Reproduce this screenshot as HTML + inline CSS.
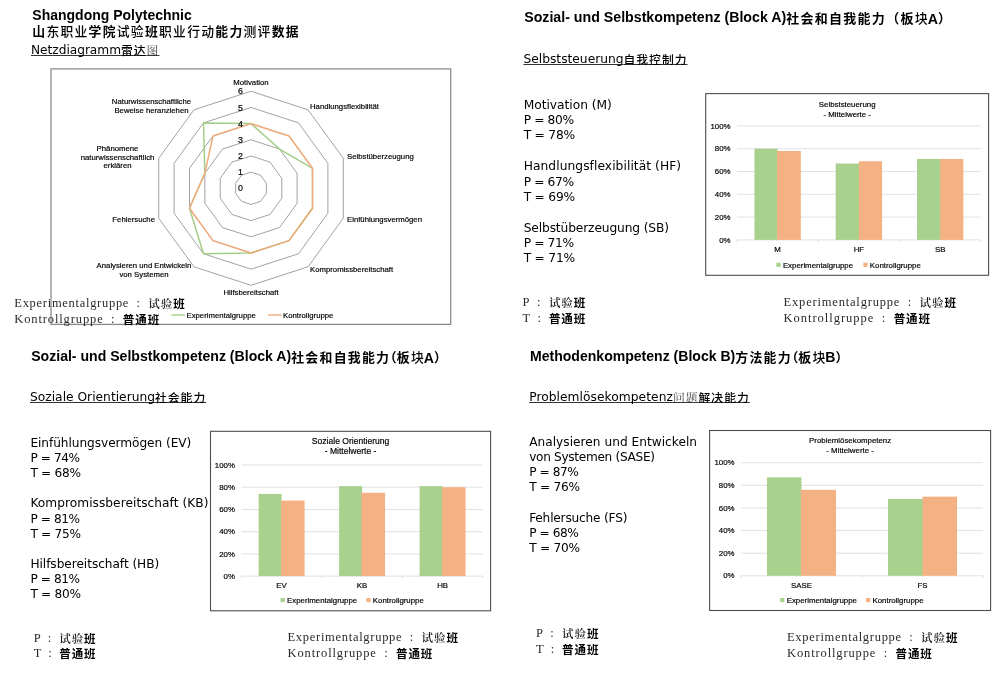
<!DOCTYPE html>
<html lang="de"><head><meta charset="utf-8"><title>Shangdong Polytechnic</title>
<style>
html,body{margin:0;padding:0;background:#fff;}
#pg{position:relative;width:1000px;height:675px;overflow:hidden;background:#fff;color:#000;}
.t{position:absolute;white-space:nowrap;line-height:1;}
.h{font-family:"Liberation Sans", "Noto Sans CJK SC", sans-serif;font-weight:bold;font-size:14.25px;}
.h .cj{font-family:"Noto Sans CJK SC",sans-serif;font-size:0.915em;letter-spacing:0.1em;vertical-align:-1px;}
.hw{font-feature-settings:"halt";letter-spacing:0;}
.h .r{font-weight:500;}
.h .lt{position:relative;top:1.2px;}
.u{font-family:"DejaVu Sans", "Noto Sans CJK SC", sans-serif;font-size:13.5px;text-decoration:underline;text-decoration-thickness:1.2px;text-underline-offset:0.8px;text-decoration-color:#333;text-decoration-skip-ink:none;}
.u .cj{font-family:"Noto Sans CJK SC",sans-serif;font-size:11.8px;letter-spacing:1px;font-weight:500;vertical-align:-0.6px;}
.u .sg{font-family:"Noto Serif CJK SC",serif;font-weight:400;color:#444;}
.b{font-family:"DejaVu Sans", "Noto Sans CJK SC", sans-serif;font-size:13.5px;line-height:15.4px;white-space:pre;}
.b div{height:1lh;}
.m{font-family:"Liberation Serif","Noto Serif CJK SC",serif;font-size:12.5px;color:#2a2a2a;}
.m div{height:15.5px;line-height:15.5px;white-space:pre;}
.m .l{display:inline-block;}
.m .s{font-family:"Noto Serif CJK SC",serif;font-weight:600;font-size:11.5px;letter-spacing:0.95px;word-spacing:0;color:#111;vertical-align:-0.6px;}
.m .k{font-family:"Noto Sans CJK SC",sans-serif;font-weight:bold;font-size:11.5px;letter-spacing:0.95px;word-spacing:0;color:#000;vertical-align:-0.6px;}
svg{position:absolute;left:0;top:0;}
svg text{font-family:"Liberation Sans",sans-serif;fill:#000;stroke:#000;stroke-width:0.18px;}
</style></head><body><div id="pg">

<svg width="1000" height="675" viewBox="0 0 1000 675">
<rect x="51" y="68.9" width="399.7" height="255.5" fill="#fff" stroke="#8c8c8c" stroke-width="1.3"/>
<polygon points="251.00,172.13 260.50,175.22 266.38,183.30 266.38,193.30 260.50,201.38 251.00,204.47 241.50,201.38 235.62,193.30 235.62,183.30 241.50,175.22" fill="none" stroke="#8a8a8a" stroke-width="0.8"/>
<polygon points="251.00,155.96 270.01,162.14 281.76,178.31 281.76,198.29 270.01,214.46 251.00,220.64 231.99,214.46 220.24,198.29 220.24,178.31 231.99,162.14" fill="none" stroke="#8a8a8a" stroke-width="0.8"/>
<polygon points="251.00,139.79 279.51,149.05 297.14,173.31 297.14,203.29 279.51,227.55 251.00,236.81 222.49,227.55 204.86,203.29 204.86,173.31 222.49,149.05" fill="none" stroke="#8a8a8a" stroke-width="0.8"/>
<polygon points="251.00,123.62 289.02,135.97 312.51,168.31 312.51,208.29 289.02,240.63 251.00,252.98 212.98,240.63 189.49,208.29 189.49,168.31 212.98,135.97" fill="none" stroke="#8a8a8a" stroke-width="0.8"/>
<polygon points="251.00,107.45 298.52,122.89 327.89,163.32 327.89,213.28 298.52,253.71 251.00,269.15 203.48,253.71 174.11,213.28 174.11,163.32 203.48,122.89" fill="none" stroke="#8a8a8a" stroke-width="0.8"/>
<polygon points="251.00,91.28 308.03,109.81 343.27,158.32 343.27,218.28 308.03,266.79 251.00,285.32 193.97,266.79 158.73,218.28 158.73,158.32 193.97,109.81" fill="none" stroke="#8a8a8a" stroke-width="0.8"/>
<polygon points="251.00,123.62 279.51,149.05 312.51,168.31 312.51,208.29 289.02,240.63 251.00,252.98 203.48,253.71 189.49,208.29 204.86,173.31 203.48,122.89" fill="none" stroke="#A3CE87" stroke-width="1.5" stroke-linejoin="round"/>
<polygon points="251.00,123.62 289.02,135.97 312.51,168.31 312.51,208.29 289.02,240.63 251.00,252.98 212.98,240.63 189.49,208.29 204.86,173.31 212.98,135.97" fill="none" stroke="#F2AB7B" stroke-width="1.5" stroke-linejoin="round"/>
<text x="243" y="191.4" font-size="8.8" text-anchor="end">0</text>
<text x="243" y="175.2" font-size="8.8" text-anchor="end">1</text>
<text x="243" y="159.1" font-size="8.8" text-anchor="end">2</text>
<text x="243" y="142.9" font-size="8.8" text-anchor="end">3</text>
<text x="243" y="126.7" font-size="8.8" text-anchor="end">4</text>
<text x="243" y="110.5" font-size="8.8" text-anchor="end">5</text>
<text x="243" y="94.4" font-size="8.8" text-anchor="end">6</text>
<text x="251" y="84.8" font-size="7.75" text-anchor="middle">Motivation</text>
<text x="310" y="108.6" font-size="7.75" text-anchor="start">Handlungsflexibilität</text>
<text x="347" y="159.2" font-size="7.75" text-anchor="start">Selbstüberzeugung</text>
<text x="347" y="221.8" font-size="7.75" text-anchor="start">Einfühlungsvermögen</text>
<text x="310" y="271.8" font-size="7.75" text-anchor="start">Kompromissbereitschaft</text>
<text x="251" y="295.4" font-size="7.75" text-anchor="middle">Hilfsbereitschaft</text>
<text x="144" y="267.6" font-size="7.75" text-anchor="middle">Analysieren und Entwickeln</text>
<text x="144" y="276.9" font-size="7.75" text-anchor="middle">von Systemen</text>
<text x="155" y="221.8" font-size="7.75" text-anchor="end">Fehlersuche</text>
<text x="117.5" y="150.8" font-size="7.75" text-anchor="middle">Phänomene</text>
<text x="117.5" y="159.5" font-size="7.75" text-anchor="middle">naturwissenschaftlich</text>
<text x="117.5" y="168.2" font-size="7.75" text-anchor="middle">erklären</text>
<text x="151.5" y="104.0" font-size="7.75" text-anchor="middle">Naturwissenschaftliche</text>
<text x="151.5" y="113.1" font-size="7.75" text-anchor="middle">Beweise heranziehen</text>
<line x1="171.5" y1="315" x2="185" y2="315" stroke="#A3CE87" stroke-width="1.4"/>
<text x="186.5" y="317.7" font-size="7.75">Experimentalgruppe</text>
<line x1="268" y1="315" x2="281.5" y2="315" stroke="#F2AB7B" stroke-width="1.4"/>
<text x="283" y="317.7" font-size="7.75">Kontrollgruppe</text>
<rect x="705.7" y="93.6" width="282.9" height="181.7" fill="#fff" stroke="#4d4d4d" stroke-width="1.1"/>
<line x1="737" y1="239.90" x2="980.8" y2="239.90" stroke="#d9d9d9" stroke-width="0.8"/>
<text x="730.5" y="242.5" font-size="7.85" text-anchor="end">0%</text>
<line x1="737" y1="217.10" x2="980.8" y2="217.10" stroke="#d9d9d9" stroke-width="0.8"/>
<text x="730.5" y="219.7" font-size="7.85" text-anchor="end">20%</text>
<line x1="737" y1="194.30" x2="980.8" y2="194.30" stroke="#d9d9d9" stroke-width="0.8"/>
<text x="730.5" y="196.9" font-size="7.85" text-anchor="end">40%</text>
<line x1="737" y1="171.50" x2="980.8" y2="171.50" stroke="#d9d9d9" stroke-width="0.8"/>
<text x="730.5" y="174.1" font-size="7.85" text-anchor="end">60%</text>
<line x1="737" y1="148.70" x2="980.8" y2="148.70" stroke="#d9d9d9" stroke-width="0.8"/>
<text x="730.5" y="151.3" font-size="7.85" text-anchor="end">80%</text>
<line x1="737" y1="125.90" x2="980.8" y2="125.90" stroke="#d9d9d9" stroke-width="0.8"/>
<text x="730.5" y="128.5" font-size="7.85" text-anchor="end">100%</text>
<line x1="737.00" y1="239.90" x2="737.00" y2="242.10" stroke="#d9d9d9" stroke-width="0.8"/>
<line x1="818.27" y1="239.90" x2="818.27" y2="242.10" stroke="#d9d9d9" stroke-width="0.8"/>
<line x1="899.53" y1="239.90" x2="899.53" y2="242.10" stroke="#d9d9d9" stroke-width="0.8"/>
<line x1="980.80" y1="239.90" x2="980.80" y2="242.10" stroke="#d9d9d9" stroke-width="0.8"/>
<text x="847.2" y="106.8" font-size="7.85" text-anchor="middle">Selbststeuerung</text>
<text x="847.2" y="116.6" font-size="7.85" text-anchor="middle">- Mittelwerte -</text>
<rect x="754.43" y="148.70" width="23.20" height="91.20" fill="#A9D18E"/>
<rect x="777.03" y="150.98" width="23.80" height="88.92" fill="#F4B183"/>
<text x="777.6" y="251.9" font-size="7.85" text-anchor="middle">M</text>
<rect x="835.70" y="163.52" width="23.80" height="76.38" fill="#A9D18E"/>
<rect x="858.90" y="161.24" width="23.20" height="78.66" fill="#F4B183"/>
<text x="858.9" y="251.9" font-size="7.85" text-anchor="middle">HF</text>
<rect x="916.97" y="158.96" width="23.80" height="80.94" fill="#A9D18E"/>
<rect x="940.17" y="158.96" width="23.20" height="80.94" fill="#F4B183"/>
<text x="940.2" y="251.9" font-size="7.85" text-anchor="middle">SB</text>
<rect x="776.4" y="262.7" width="4.2" height="4.2" fill="#A9D18E"/>
<text x="782.9" y="267.5" font-size="7.85">Experimentalgruppe</text>
<rect x="863.4" y="262.7" width="4.2" height="4.2" fill="#F4B183"/>
<text x="869.8" y="267.5" font-size="7.85">Kontrollgruppe</text>
<rect x="210.5" y="431.3" width="280.1" height="179.5" fill="#fff" stroke="#4d4d4d" stroke-width="1.1"/>
<line x1="241.4" y1="576.10" x2="482.8" y2="576.10" stroke="#d9d9d9" stroke-width="0.8"/>
<text x="234.9" y="578.7" font-size="7.85" text-anchor="end">0%</text>
<line x1="241.4" y1="553.88" x2="482.8" y2="553.88" stroke="#d9d9d9" stroke-width="0.8"/>
<text x="234.9" y="556.5" font-size="7.85" text-anchor="end">20%</text>
<line x1="241.4" y1="531.66" x2="482.8" y2="531.66" stroke="#d9d9d9" stroke-width="0.8"/>
<text x="234.9" y="534.3" font-size="7.85" text-anchor="end">40%</text>
<line x1="241.4" y1="509.44" x2="482.8" y2="509.44" stroke="#d9d9d9" stroke-width="0.8"/>
<text x="234.9" y="512.0" font-size="7.85" text-anchor="end">60%</text>
<line x1="241.4" y1="487.22" x2="482.8" y2="487.22" stroke="#d9d9d9" stroke-width="0.8"/>
<text x="234.9" y="489.8" font-size="7.85" text-anchor="end">80%</text>
<line x1="241.4" y1="465.00" x2="482.8" y2="465.00" stroke="#d9d9d9" stroke-width="0.8"/>
<text x="234.9" y="467.6" font-size="7.85" text-anchor="end">100%</text>
<line x1="241.40" y1="576.10" x2="241.40" y2="578.30" stroke="#d9d9d9" stroke-width="0.8"/>
<line x1="321.87" y1="576.10" x2="321.87" y2="578.30" stroke="#d9d9d9" stroke-width="0.8"/>
<line x1="402.33" y1="576.10" x2="402.33" y2="578.30" stroke="#d9d9d9" stroke-width="0.8"/>
<line x1="482.80" y1="576.10" x2="482.80" y2="578.30" stroke="#d9d9d9" stroke-width="0.8"/>
<text x="350.6" y="444.3" font-size="8.55" text-anchor="middle">Soziale Orientierung</text>
<text x="350.6" y="454.4" font-size="8.55" text-anchor="middle">- Mittelwerte -</text>
<rect x="258.66" y="493.89" width="22.97" height="82.21" fill="#A9D18E"/>
<rect x="281.03" y="500.55" width="23.57" height="75.55" fill="#F4B183"/>
<text x="281.6" y="588.1" font-size="7.85" text-anchor="middle">EV</text>
<rect x="339.13" y="486.11" width="22.97" height="89.99" fill="#A9D18E"/>
<rect x="361.50" y="492.77" width="23.57" height="83.33" fill="#F4B183"/>
<text x="362.1" y="588.1" font-size="7.85" text-anchor="middle">KB</text>
<rect x="419.59" y="486.11" width="22.97" height="89.99" fill="#A9D18E"/>
<rect x="441.97" y="487.22" width="23.57" height="88.88" fill="#F4B183"/>
<text x="442.6" y="588.1" font-size="7.85" text-anchor="middle">HB</text>
<rect x="280.5" y="598.0" width="4.2" height="4.2" fill="#A9D18E"/>
<text x="287.0" y="602.8" font-size="7.85">Experimentalgruppe</text>
<rect x="366.4" y="598.0" width="4.2" height="4.2" fill="#F4B183"/>
<text x="372.8" y="602.8" font-size="7.85">Kontrollgruppe</text>
<rect x="709.6" y="430.5" width="281" height="180" fill="#fff" stroke="#4d4d4d" stroke-width="1.1"/>
<line x1="741" y1="575.80" x2="983" y2="575.80" stroke="#d9d9d9" stroke-width="0.8"/>
<text x="734.5" y="578.4" font-size="7.85" text-anchor="end">0%</text>
<line x1="741" y1="553.18" x2="983" y2="553.18" stroke="#d9d9d9" stroke-width="0.8"/>
<text x="734.5" y="555.8" font-size="7.85" text-anchor="end">20%</text>
<line x1="741" y1="530.56" x2="983" y2="530.56" stroke="#d9d9d9" stroke-width="0.8"/>
<text x="734.5" y="533.2" font-size="7.85" text-anchor="end">40%</text>
<line x1="741" y1="507.94" x2="983" y2="507.94" stroke="#d9d9d9" stroke-width="0.8"/>
<text x="734.5" y="510.5" font-size="7.85" text-anchor="end">60%</text>
<line x1="741" y1="485.32" x2="983" y2="485.32" stroke="#d9d9d9" stroke-width="0.8"/>
<text x="734.5" y="487.9" font-size="7.85" text-anchor="end">80%</text>
<line x1="741" y1="462.70" x2="983" y2="462.70" stroke="#d9d9d9" stroke-width="0.8"/>
<text x="734.5" y="465.3" font-size="7.85" text-anchor="end">100%</text>
<line x1="741.00" y1="575.80" x2="741.00" y2="578.00" stroke="#d9d9d9" stroke-width="0.8"/>
<line x1="862.00" y1="575.80" x2="862.00" y2="578.00" stroke="#d9d9d9" stroke-width="0.8"/>
<line x1="983.00" y1="575.80" x2="983.00" y2="578.00" stroke="#d9d9d9" stroke-width="0.8"/>
<text x="850.1" y="443.1" font-size="7.85" text-anchor="middle">Problemlösekompetenz</text>
<text x="850.1" y="452.6" font-size="7.85" text-anchor="middle">- Mittelwerte -</text>
<rect x="766.95" y="477.40" width="34.55" height="98.40" fill="#A9D18E"/>
<rect x="800.90" y="489.84" width="35.15" height="85.96" fill="#F4B183"/>
<text x="801.5" y="587.8" font-size="7.85" text-anchor="middle">SASE</text>
<rect x="887.95" y="498.89" width="35.15" height="76.91" fill="#A9D18E"/>
<rect x="922.50" y="496.63" width="34.55" height="79.17" fill="#F4B183"/>
<text x="922.5" y="587.8" font-size="7.85" text-anchor="middle">FS</text>
<rect x="780.2" y="598.0" width="4.2" height="4.2" fill="#A9D18E"/>
<text x="786.7" y="602.8" font-size="7.85">Experimentalgruppe</text>
<rect x="866.1" y="598.0" width="4.2" height="4.2" fill="#F4B183"/>
<text x="872.5" y="602.8" font-size="7.85">Kontrollgruppe</text>
</svg>
<div class="t h" style="left:32.3px;top:8.15px;font-size:14px;">Shangdong Polytechnic</div>
<div class="t h" style="left:32.3px;top:23.45px;font-size:14px;"><span class="cj">山<span class="r">东职业</span>学院<span class="r">试验</span>班<span class="r">职业行动</span>能力<span class="r">测评</span>数据</span></div>
<div class="t m" style="left:14.3px;top:295.90px;"><div><span class="l" style="width:133.98px;letter-spacing:0.71px;word-spacing:3.64px;">Experimentalgruppe : </span><span class="s">试验</span><span class="k">班</span></div></div>
<div class="t m" style="left:14.3px;top:311.70px;"><div><span class="l" style="width:108.46px;letter-spacing:0.87px;word-spacing:3.4px;">Kontrollgruppe : </span><span class="k">普通班</span></div></div>
<div class="t h" style="left:524.2px;top:10.48px;font-size:14.2px;">Sozial- und Selbstkompetenz (Block A)<span class="cj">社会和自我能力（板<span class="r" style="letter-spacing:0">块</span></span><span class="lt">A</span><span class="cj">）</span></div>
<div class="t m" style="left:522.6px;top:294.70px;"><div><span class="l" style="width:26.29px;letter-spacing:0.19px;word-spacing:4.4px;">P : </span><span class="s">试验</span><span class="k">班</span></div></div>
<div class="t m" style="left:522.6px;top:310.50px;"><div><span class="l" style="width:26.29px;letter-spacing:0.19px;word-spacing:4.07px;">T : </span><span class="k">普通班</span></div></div>
<div class="t m" style="left:783.6px;top:294.70px;"><div><span class="l" style="width:135.99px;letter-spacing:0.81px;word-spacing:3.64px;">Experimentalgruppe : </span><span class="s">试验</span><span class="k">班</span></div></div>
<div class="t m" style="left:783.6px;top:310.70px;"><div><span class="l" style="width:110.09px;letter-spacing:0.97px;word-spacing:3.4px;">Kontrollgruppe : </span><span class="k">普通班</span></div></div>
<div class="t h" style="left:31.2px;top:349.33px;font-size:14.08px;">Sozial- und Selbstkompetenz (Block A)<span class="cj">社会和自我能力<span class="hw">（</span>板<span class="r" style="letter-spacing:0">块</span></span><span class="lt">A</span><span class="cj"><span class="hw">）</span></span></div>
<div class="t m" style="left:33.7px;top:630.50px;"><div><span class="l" style="width:25.52px;letter-spacing:0.00px;word-spacing:4.4px;">P : </span><span class="s">试验</span><span class="k">班</span></div></div>
<div class="t m" style="left:33.7px;top:645.70px;"><div><span class="l" style="width:25.52px;letter-spacing:0.00px;word-spacing:4.07px;">T : </span><span class="k">普通班</span></div></div>
<div class="t m" style="left:287.5px;top:629.70px;"><div><span class="l" style="width:133.98px;letter-spacing:0.71px;word-spacing:3.64px;">Experimentalgruppe : </span><span class="s">试验</span><span class="k">班</span></div></div>
<div class="t m" style="left:287.5px;top:645.50px;"><div><span class="l" style="width:108.46px;letter-spacing:0.87px;word-spacing:3.4px;">Kontrollgruppe : </span><span class="k">普通班</span></div></div>
<div class="t h" style="left:530px;top:348.60px;font-size:14.06px;">Methodenkompetenz (Block B)<span class="cj">方法能力<span class="hw">（</span>板<span class="r" style="letter-spacing:0">块</span></span><span class="lt">B</span><span class="cj"><span class="hw">）</span></span></div>
<div class="t m" style="left:536px;top:626.00px;"><div><span class="l" style="width:26.03px;letter-spacing:0.13px;word-spacing:4.4px;">P : </span><span class="s">试验</span><span class="k">班</span></div></div>
<div class="t m" style="left:536px;top:641.70px;"><div><span class="l" style="width:26.03px;letter-spacing:0.13px;word-spacing:4.07px;">T : </span><span class="k">普通班</span></div></div>
<div class="t m" style="left:787px;top:629.70px;"><div><span class="l" style="width:133.98px;letter-spacing:0.71px;word-spacing:3.64px;">Experimentalgruppe : </span><span class="s">试验</span><span class="k">班</span></div></div>
<div class="t m" style="left:787px;top:645.50px;"><div><span class="l" style="width:108.46px;letter-spacing:0.87px;word-spacing:3.4px;">Kontrollgruppe : </span><span class="k">普通班</span></div></div>
<div class="t u" style="left:31px;top:44.08px;font-size:12.2px;"><span style="letter-spacing:-0.029px">Netzdiagramm</span><span class="cj">雷达<span class="sg">图</span></span></div>
<div class="t u" style="left:523.5px;top:52.54px;font-size:12.25px;"><span style="letter-spacing:-0.003px">Selbststeuerung</span><span class="cj">自我控制力</span></div>
<div class="t u" style="left:30px;top:390.64px;font-size:12.25px;"><span style="letter-spacing:0.004px">Soziale Orientierung</span><span class="cj">社会能力</span></div>
<div class="t u" style="left:529.2px;top:390.64px;font-size:12.25px;"><span style="letter-spacing:0.045px">Problemlösekompetenz</span><span class="cj"><span class="sg">问题</span>解决能力</span></div>
<div class="t b" style="left:523.7px;top:97.78px;font-size:12.25px;line-height:15.37px;"><div style="letter-spacing:-0.023px">Motivation (M)</div><div style="letter-spacing:-0.382px">P = 80%</div><div style="letter-spacing:-0.224px">T = 78%</div><div>&nbsp;</div><div style="letter-spacing:0.063px">Handlungsflexibilität (HF)</div><div style="letter-spacing:-0.382px">P = 67%</div><div style="letter-spacing:-0.224px">T = 69%</div><div>&nbsp;</div><div style="letter-spacing:-0.138px">Selbstüberzeugung (SB)</div><div style="letter-spacing:-0.382px">P = 71%</div><div style="letter-spacing:-0.224px">T = 71%</div></div>
<div class="t b" style="left:30.4px;top:435.93px;font-size:12.15px;line-height:15.13px;"><div style="letter-spacing:-0.053px">Einfühlungsvermögen (EV)</div><div style="letter-spacing:-0.415px">P = 74%</div><div style="letter-spacing:-0.271px">T = 68%</div><div>&nbsp;</div><div style="letter-spacing:0.063px">Kompromissbereitschaft (KB)</div><div style="letter-spacing:-0.415px">P = 81%</div><div style="letter-spacing:-0.271px">T = 75%</div><div>&nbsp;</div><div style="letter-spacing:-0.042px">Hilfsbereitschaft (HB)</div><div style="letter-spacing:-0.415px">P = 81%</div><div style="letter-spacing:-0.271px">T = 80%</div></div>
<div class="t b" style="left:529.2px;top:434.80px;font-size:12.15px;line-height:15.19px;"><div style="letter-spacing:0.030px">Analysieren und Entwickeln</div><div style="letter-spacing:-0.319px">von Systemen (SASE)</div><div style="letter-spacing:-0.415px">P = 87%</div><div style="letter-spacing:-0.228px">T = 76%</div><div>&nbsp;</div><div style="letter-spacing:-0.180px">Fehlersuche (FS)</div><div style="letter-spacing:-0.415px">P = 68%</div><div style="letter-spacing:-0.228px">T = 70%</div></div>
</div></body></html>
